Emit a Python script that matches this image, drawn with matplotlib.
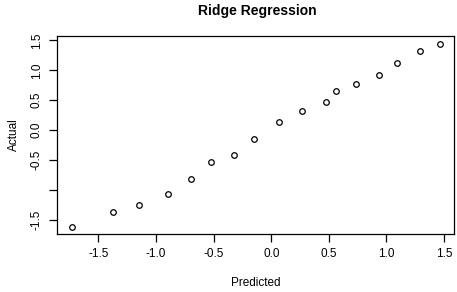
import matplotlib
matplotlib.use("Agg")
import matplotlib.pyplot as plt

# predicted vs actual values
predicted = [-1.73, -1.377, -1.148, -0.899, -0.697, -0.521, -0.326, -0.148,
             0.067, 0.264, 0.477, 0.562, 0.738, 0.932, 1.088, 1.288, 1.462]
actual = [-1.62, -1.368, -1.251, -1.067, -0.826, -0.536, -0.424, -0.145,
          0.134, 0.324, 0.474, 0.653, 0.776, 0.916, 1.117, 1.328, 1.446]

x_ticks = [-1.5, -1.0, -0.5, 0.0, 0.5, 1.0, 1.5]
y_ticks = [-1.5, -1.0, -0.5, 0.0, 0.5, 1.0, 1.5]
y_labels = ["-1.5", "", "-0.5", "0.0", "0.5", "1.0", "1.5"]

plt.rcParams["font.family"] = ["Liberation Sans", "DejaVu Sans"]

fig = plt.figure(figsize=(4.57, 2.92), dpi=100)
ax = fig.add_axes([0.124, 0.1986, 0.8694, 0.6781])

ax.plot(predicted, actual, linestyle="none", marker="o", markersize=4,
        markerfacecolor="none", markeredgecolor="black", markeredgewidth=0.9)

ax.set_xlim(-1.863, 1.586)
ax.set_ylim(-1.742, 1.575)

ax.set_xticks(x_ticks)
ax.set_xticklabels(["%.1f" % v for v in x_ticks])
ax.set_yticks(y_ticks)
ax.set_yticklabels(y_labels, rotation=90, va="center")

ax.tick_params(direction="out", length=6, width=0.9, labelsize=8.5, pad=4)
for s in ax.spines.values():
    s.set_linewidth(0.9)

ax.set_xlabel("Predicted", fontsize=8.5, labelpad=12)
ax.set_ylabel("Actual", fontsize=8.5, labelpad=8)
fig.suptitle("Ridge Regression", fontsize=10, fontweight="bold", x=0.562, y=0.985)

fig.savefig("out.png", dpi=100)
plt.close(fig)
